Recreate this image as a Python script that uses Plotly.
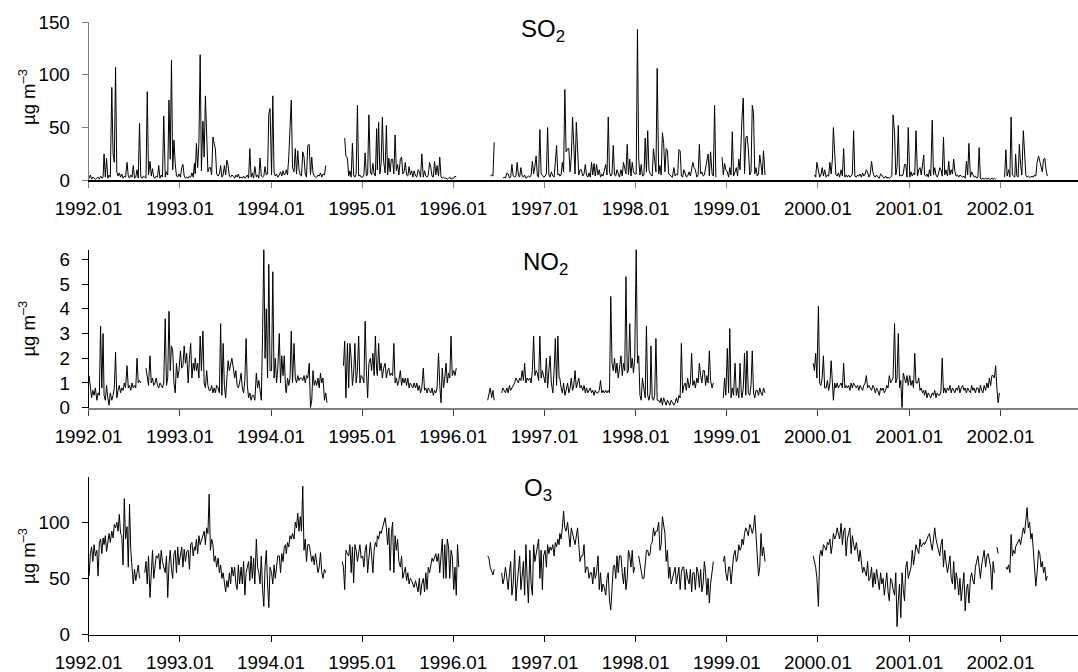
import plotly.graph_objects as go

N = None

# ---------------- SO2 (µg m-3), 6 values per month (pentads) ----------------
SO2_1992 = [2,5,1,3,2,1, 2,3,1,4,2,3, 25,3,21,2,5,3, 88,25,17,107,8,4, 7,3,6,2,4,3, 17,4,2,5,3,14,
            2,3,10,2,54,3, 2,4,3,2,84,5, 18,4,11,3,2,4, 3,14,2,5,3,61, 3,8,5,76,20,114, 10,38,16,4,3,6]
SO2_1993 = [3,12,15,4,2,3, 2,4,3,7,3,16, 6,35,12,35,119,9, 56,22,80,46,8,12, 12,5,41,35,30,6, 4,6,14,3,5,14,
            5,19,14,4,3,5, 4,2,5,3,6,2, 3,2,4,2,3,5, 2,30,3,7,2,13, 3,5,2,21,4,3, 4,13,5,6,63,68]
SO2_1994 = [5,80,8,4,6,3, 5,8,4,9,5,7, 10,5,22,50,76,12, 8,30,6,28,10,5, 4,27,22,6,3,33, 34,5,22,7,4,3,
            3,5,4,7,3,6, 5,14,N,N,N,N, N,N,N,N,N,N, N,N,N,N,40,23, 21,4,9,3,35,5, 3,6,71,4,5,3]
SO2_1995 = [3,5,26,4,6,62, 8,5,16,6,4,49, 10,55,6,16,60,18, 7,52,5,21,8,20, 20,6,43,9,15,5, 20,22,6,8,17,5,
            4,13,5,9,3,9, 4,3,10,8,3,25, 3,9,4,3,5,17, 12,4,3,18,5,14, 4,22,3,2,3,2, 2,1,2,3,1,2]
SO2_1996 = [2,4,3,N,N,N, N,N,N,N,N,N, N,N,N,N,N,N, N,N,N,N,N,N, N,N,N,N,N,4, 5,4,36,N,N,N,
            N,N,N,2,3,2, 7,6,2,3,15,4, 3,4,17,5,3,12, 4,3,5,2,3,4, 3,5,18,6,13,23, 4,3,48,6,5,3]
SO2_1997 = [4,6,50,5,3,8, 4,3,17,33,5,6, 4,5,17,8,86,27, 30,30,8,22,60,25, 6,55,20,5,10,10, 4,6,15,5,3,7,
            3,17,5,16,4,15, 5,10,3,6,4,10, 15,5,60,8,4,6, 33,5,4,10,5,3, 10,4,17,10,6,34, 5,20,4,17,8,6]
SO2_1998 = [6,143,20,5,15,4, 5,40,8,47,10,6, 5,4,30,15,8,106, 6,14,5,45,35,8, 30,28,6,5,4,3, 12,4,6,5,29,28,
            4,3,10,5,3,4, 8,4,10,17,12,10, 3,5,34,6,8,4, 5,12,15,25,4,27, 6,4,71,3,N,N, N,N,22,5,16,10]
SO2_1999 = [8,3,12,5,46,4, 8,12,4,20,10,58, 60,78,6,40,42,30, 5,8,71,64,6,12, 4,6,24,15,5,28, 5,N,N,N,N,N,
            N,N,N,N,N,N, N,N,N,N,N,N, N,N,N,N,N,N, N,N,N,N,N,N, N,N,N,N,N,N, N,N,N,5,3,17]
SO2_2000 = [10,3,5,12,4,10, 3,5,4,17,6,20, 50,25,5,4,7,3, 10,4,30,3,5,3, 5,3,4,6,47,4, 3,5,4,6,3,7,
            4,6,10,8,3,5, 18,8,4,3,5,3, 2,6,5,3,2,4, 2,3,2,3,4,62, 45,5,12,52,4,5, 4,6,15,15,3,50]
SO2_2001 = [3,8,4,7,5,47, 4,10,12,5,15,24, 5,4,6,3,10,4, 57,5,12,5,3,6, 12,10,4,41,5,10, 4,18,5,10,6,20,
            8,4,5,3,5,4, 3,4,2,18,5,35, 3,8,5,3,4,2, 3,31,2,1,2,1, 2,1,2,1,1,2, 1,2,1,N,N,N]
SO2_2002 = [N,N,N,3,29,4, 10,3,60,5,4,3, 25,4,3,34,15,5, 47,28,5,3,4,3, 3,4,3,5,4,17, 23,18,12,8,20,21,
            10,4]

# ---------------- NO2 (µg m-3), 6 values per month ----------------
NO2_1992 = [1.3,0.9,0.4,0.7,0.5,0.8, 0.3,0.6,0.5,3.3,0.8,3.0, 0.5,0.3,0.9,0.4,0.1,0.6,
            0.3,0.5,0.8,2.25,0.4,0.7, 0.9,0.6,0.8,0.7,1.0,0.8, 1.7,0.8,0.9,0.7,1.0,0.8,
            0.9,0.8,2.0,1.0,1.1,1.0, N,N,N,1.6,1.1,0.9, 2.1,1.0,1.2,0.9,1.0,1.2,
            0.9,0.8,1.0,0.9,0.8,1.0, 3.6,0.9,1.2,3.9,1.5,2.5, 2.3,1.0,0.6,1.8,1.2,1.5]
NO2_1993 = [2.3,1.6,1.7,2.5,1.8,2.2, 1.0,2.0,2.6,1.2,1.8,1.5, 2.0,1.5,1.8,1.2,2.9,1.5,
            3.1,1.0,0.8,1.5,0.9,0.7, 0.7,0.9,0.6,0.8,0.6,0.9, 0.8,0.6,3.4,0.5,2.6,0.9,
            0.4,1.2,1.9,1.5,1.8,2.0, 1.6,1.2,1.5,0.9,0.8,1.0, 1.4,0.8,0.6,1.1,2.8,0.9,
            0.4,0.6,0.3,0.5,0.5,0.3, 1.4,0.8,1.1,0.6,0.3,3.0, 6.4,2.0,4.0,1.2,5.8,1.5]
NO2_1994 = [1.5,5.5,1.2,2.0,1.0,1.6, 3.0,1.0,2.1,1.3,2.1,0.8, 0.6,1.2,0.9,1.2,3.1,1.0,
            2.6,1.2,1.0,1.3,1.1,1.2, 1.2,1.1,1.3,1.0,1.3,1.2, 1.8,0.0,0.3,1.5,0.9,1.1,
            0.9,1.2,0.8,1.4,1.0,1.2, 0.3,0.6,0.2,N,N,N, N,N,N,N,N,N,
            N,N,N,1.7,2.7,0.4, 2.6,0.8,2.6,2.0,0.9,1.4, 2.6,1.0,1.5,2.9,1.0,1.3]
NO2_1995 = [1.2,1.0,3.5,1.5,0.4,1.8, 2.0,1.5,2.2,1.3,2.9,1.5, 1.3,2.6,1.5,1.8,1.2,1.6,
            1.8,1.2,1.5,1.6,1.3,1.4, 1.3,2.6,1.0,1.2,0.9,1.1, 1.5,0.9,1.2,1.0,1.2,0.9,
            1.2,0.8,1.0,0.9,0.8,1.0, 0.8,1.0,0.7,0.9,0.6,0.8, 1.6,0.7,0.8,0.6,0.8,0.7,
            0.6,0.8,0.5,0.7,0.6,0.8, 2.2,0.9,0.2,1.6,0.8,1.2, 1.8,1.0,1.4,1.2,2.9,1.3]
NO2_1996 = [1.5,1.3,1.6,N,N,N, N,N,N,N,N,N, N,N,N,N,N,N,
            N,N,N,N,N,N, N,N,N,0.3,0.6,0.8, 0.4,0.7,0.3,N,N,N,
            N,N,0.6,0.8,0.7,0.6, 0.8,0.6,0.9,0.7,0.8,0.9, 1.0,1.2,1.1,1.0,1.2,1.1,
            1.5,1.1,1.8,1.0,1.2,1.1, 1.2,1.0,1.5,2.9,1.3,1.5, 1.4,1.1,2.9,1.2,1.5,1.2]
NO2_1997 = [1.0,2.0,0.8,1.5,2.1,1.0, 0.6,1.5,2.8,0.9,2.9,1.2, 1.2,0.8,0.6,1.0,0.5,0.7,
            1.0,0.6,0.8,1.2,0.7,0.9, 1.5,0.8,1.0,1.2,0.8,0.9, 0.7,0.9,0.6,0.8,0.6,0.7,
            0.8,0.6,0.7,0.5,0.7,0.6, 0.6,0.7,1.1,0.6,0.7,0.6, 0.7,0.6,0.7,0.6,4.5,1.8,
            1.5,2.0,1.4,1.8,1.2,1.6, 2.1,1.3,1.8,1.5,5.3,1.4, 1.5,3.4,1.6,2.0,1.4,2.0]
NO2_1998 = [6.4,1.8,2.1,0.5,0.3,1.2, 0.8,0.4,3.3,0.5,0.3,0.6, 2.5,0.4,0.3,0.5,2.8,0.3,
            0.3,0.2,0.4,0.1,0.4,0.2, 0.1,0.3,0.2,0.1,0.3,0.2, 0.1,0.2,0.4,0.2,0.5,0.4,
            2.6,0.6,0.9,1.0,0.7,1.2, 0.8,1.0,2.2,0.9,1.1,0.8, 1.2,1.0,1.8,1.3,1.0,1.5,
            1.5,0.9,1.3,1.0,2.3,1.1, 0.8,1.0,N,N,N,N, N,N,N,0.4,1.2,0.5]
NO2_1999 = [2.4,0.6,3.2,0.4,0.8,0.5, 1.8,0.5,0.8,0.4,1.8,0.6, 0.4,0.8,2.2,0.5,2.3,0.6,
            0.5,0.9,2.3,0.6,0.4,0.7, 0.7,0.5,0.8,0.6,0.5,0.8, 0.6,N,N,N,N,N,
            N,N,N,N,N,N, N,N,N,N,N,N, N,N,N,N,N,N,
            N,N,N,N,N,N, N,N,N,N,N,N, N,N,1.8,1.5,2.2,1.2]
NO2_2000 = [4.1,1.0,0.9,1.2,2.1,0.8, 0.8,1.1,0.7,1.0,1.9,0.9, 0.3,1.0,0.8,1.0,0.8,0.9,
            1.0,0.8,1.8,0.8,0.9,0.8, 0.9,0.7,1.0,0.8,1.0,0.9, 0.8,0.9,0.7,0.9,0.8,0.7,
            0.9,1.0,1.3,0.8,0.9,0.8, 0.7,0.9,0.8,0.6,0.8,0.7, 0.5,0.8,0.7,0.8,0.6,0.7,
            0.9,0.8,1.3,1.0,1.1,1.2, 3.4,1.0,1.2,3.0,0.8,1.1, 0.0,1.4,1.2,1.0,1.3,0.9]
NO2_2001 = [1.3,0.9,1.1,0.8,2.2,1.0, 1.0,1.2,0.7,0.8,0.6,0.7, 0.5,0.7,0.4,0.6,0.5,0.4,
            0.6,0.5,0.7,0.4,0.6,0.5, 0.5,0.7,2.0,0.6,0.8,0.6, 0.8,0.7,0.9,0.6,0.8,0.7,
            0.6,0.8,0.7,0.9,0.6,0.8, 0.9,0.7,0.8,0.6,0.8,0.7, 0.6,0.9,0.7,0.8,0.6,0.8,
            0.8,0.6,0.9,0.7,0.6,0.9, 0.7,1.0,0.8,1.2,0.9,1.3, 1.3,1.2,1.7,0.8,0.2,0.6]

# ---------------- O3 (µg m-3), 6 values per month ----------------
O3_1992 = [52,72,78,65,80,70, 75,52,82,85,72,86, 80,88,74,85,90,82, 92,86,98,95,100,92,
           107,90,88,62,121,85, 96,60,116,75,55,45, 58,48,55,62,50,N, N,N,55,65,45,70,
           33,60,75,50,62,70, 68,72,58,75,65,60, 55,70,33,62,75,58, 50,72,75,55,78,62]
O3_1993 = [70,78,60,76,65,74, 75,58,80,82,70,78, 75,85,72,88,80,84, 88,92,80,95,90,125,
           75,85,80,65,70,60, 68,55,62,50,55,45, 38,48,42,55,45,60, 52,60,45,40,62,45,
           60,45,65,35,55,60, 65,48,70,50,68,45, 85,60,55,45,70,40, 25,60,75,45,24,60]
O3_1994 = [55,45,62,50,60,70, 70,55,72,65,78,80, 72,82,78,88,85,90, 85,100,95,108,92,105,
           92,132,75,85,65,80, 80,72,65,70,62,72, 62,55,60,73,56,50, 58,55,N,N,N,N,
           N,N,N,N,N,N, N,N,65,60,40,75, 72,70,80,55,78,46, 80,75,65,72,80,68]
O3_1995 = [70,60,75,80,55,68, 82,70,55,75,82,78, 88,85,92,90,95,100, 104,95,80,95,57,90,
           100,55,88,75,85,65, 60,70,50,55,60,48, 55,45,50,48,45,42, 48,42,38,50,35,45,
           50,38,55,40,60,55, 60,68,65,70,72,65, 72,55,70,85,50,80, 50,85,78,50,75,70]
O3_1996 = [40,60,35,80,60,N, N,N,N,N,N,N, N,N,N,N,N,N, N,N,N,N,N,N,
           N,N,N,70,68,60, 55,53,58,N,N,N, N,N,55,45,50,60, 50,40,55,65,35,45,
           75,30,45,60,70,40, 55,65,35,80,50,28, 75,45,35,80,65,72, 80,85,50,75,40,70]
O3_1997 = [75,60,80,72,78,75, 80,70,82,78,85,80, 90,85,95,110,95,92, 100,90,78,95,88,85,
           80,90,95,80,65,70, 70,80,55,60,60,50, 55,55,45,60,50,55, 70,40,55,38,45,42,
           35,50,55,30,22,40, 60,62,50,70,55,70, 70,55,45,60,40,50, 75,70,60,75,55,60]
O3_1998 = [N,N,70,62,55,50, 50,60,75,75,70,72, 80,82,95,88,92,92, 100,75,80,105,95,90,
           65,75,50,60,45,50, 55,60,45,55,60,40, 55,60,60,40,58,50, 45,58,38,55,55,40,
           60,55,42,58,38,45, 65,55,35,50,28,45, 60,65,N,N,N,N, N,N,N,65,70,55]
O3_1999 = [48,60,60,45,55,70, 75,65,68,80,75,78, 85,80,90,95,92,88, 98,95,90,95,106,90,
           75,52,60,90,70,78, 65,N,N,N,N,N, N,N,N,N,N,N, N,N,N,N,N,N,
           N,N,N,N,N,N, N,N,N,N,N,N, N,N,N,N,N,N, N,N,70,65,60,50]
O3_2000 = [25,70,75,70,80,78, 75,82,80,85,72,80, 90,85,88,95,88,85, 99,80,92,95,70,85,
           90,95,72,88,80,75, 82,70,65,75,62,55, 60,55,52,65,48,50, 60,42,55,45,58,50,
           40,55,45,50,35,45, 55,38,30,50,48,40, 35,55,7,30,45,15, 55,40,30,60,65,50]
O3_2001 = [55,60,75,62,70,80, 75,72,85,78,80,82, 80,82,85,88,90,82, 75,85,95,85,80,78,
           70,80,85,60,75,65, 55,62,70,50,45,65, 40,55,48,35,50,30, 45,55,21,40,45,28,
           50,55,48,45,60,65, 70,60,50,62,70,75, 60,70,72,65,60,40, 65,55,N,78,72,N]
O3_2002 = [N,N,N,N,60,58, 62,55,89,70,75,72, 78,80,82,85,80,88, 95,90,100,113,95,100,
           85,90,75,60,43,55, 75,72,60,65,55,60, 48,52]

YEARS = list(range(1992, 2003))
TICK_TEXT = [f"{y}.01" for y in YEARS]
TICK_VALS = [f"{y}-01-01" for y in YEARS]
PENTAD_DAYS = [3, 8, 13, 18, 23, 28]


def build(year_lists):
    xs, ys = [], []
    for year, vals in zip(YEARS, year_lists):
        for i, v in enumerate(vals):
            xs.append(f"{year}-{i // 6 + 1:02d}-{PENTAD_DAYS[i % 6]:02d}")
            ys.append(v)
    return xs, ys


so2_x, so2_y = build([SO2_1992, SO2_1993, SO2_1994, SO2_1995, SO2_1996, SO2_1997,
                      SO2_1998, SO2_1999, SO2_2000, SO2_2001, SO2_2002])
no2_x, no2_y = build([NO2_1992, NO2_1993, NO2_1994, NO2_1995, NO2_1996, NO2_1997,
                      NO2_1998, NO2_1999, NO2_2000, NO2_2001])
o3_x, o3_y = build([O3_1992, O3_1993, O3_1994, O3_1995, O3_1996, O3_1997,
                    O3_1998, O3_1999, O3_2000, O3_2001, O3_2002])

W, H = 1078, 672
FONT = "Liberation Sans, Arial, sans-serif"
GRAY = "#808080"

def py(p):
    return 1 - p / H

x_dom = [88.6 / W, 1.0]
x_range = ["1992-01-01", "2002-11-08"]

fig = go.Figure()
line = dict(color="black", width=1)
fig.add_trace(go.Scatter(x=so2_x, y=so2_y, mode="lines", line=line, connectgaps=False,
                         xaxis="x", yaxis="y", showlegend=False, hoverinfo="skip"))
fig.add_trace(go.Scatter(x=no2_x, y=no2_y, mode="lines", line=line, connectgaps=False,
                         xaxis="x2", yaxis="y2", showlegend=False, hoverinfo="skip"))
fig.add_trace(go.Scatter(x=o3_x, y=o3_y, mode="lines", line=line, connectgaps=False,
                         xaxis="x3", yaxis="y3", showlegend=False, hoverinfo="skip"))

def xaxis(anchor, linecolor, lw, tickcolor):
    return dict(type="date", domain=x_dom, range=x_range, anchor=anchor,
                tickmode="array", tickvals=TICK_VALS, ticktext=TICK_TEXT,
                ticks="outside", ticklen=6, tickwidth=1, tickcolor=tickcolor,
                showline=True, linecolor=linecolor, linewidth=lw,
                showgrid=False, zeroline=False, ticklabelstandoff=5,
                tickfont=dict(family=FONT, size=18.8, color="black"))

def yaxis(anchor, dom, rng, tv, linecolor, tickcolor):
    return dict(domain=dom, range=rng, anchor=anchor, tickmode="array", tickvals=tv,
                ticks="outside", ticklen=6, tickwidth=1, tickcolor=tickcolor,
                showline=True, linecolor=linecolor, linewidth=1,
                showgrid=False, zeroline=False, ticklabelstandoff=8,
                tickfont=dict(family=FONT, size=18.8, color="black"))

fig.update_layout(
    width=W, height=H, margin=dict(l=0, r=0, t=0, b=0, autoexpand=False),
    paper_bgcolor="white", plot_bgcolor="white", hovermode=False,
    xaxis=xaxis("y", "black", 1.5, GRAY),
    yaxis=yaxis("x", [py(180.3), py(22)], [0, 150], [0, 50, 100, 150], GRAY, GRAY),
    xaxis2=xaxis("y2", GRAY, 2, "#404040"),
    yaxis2=yaxis("x2", [py(407.7), py(249.5)], [0, 6.4], [0, 1, 2, 3, 4, 5, 6], "black", "black"),
    xaxis3=xaxis("y3", "black", 1.2, "black"),
    yaxis3=yaxis("x3", [py(634.5), py(477.3)], [0, 140], [0, 50, 100], "black", "black"),
)

ann = []
for txt, xp, yp in [("SO<sub>2</sub>", 543, 31), ("NO<sub>2</sub>", 546, 264), ("O<sub>3</sub>", 538, 489)]:
    ann.append(dict(text=txt, x=xp / W, y=py(yp), xref="paper", yref="paper", showarrow=False,
                    xanchor="center", yanchor="middle", font=dict(family=FONT, size=24, color="black")))
for yc in [97, (407.7 + 249.5) / 2, (634.5 + 477.3) / 2]:
    ann.append(dict(text="µg m<sup>–3</sup>", x=27 / W, y=py(yc), xref="paper", yref="paper",
                    showarrow=False, textangle=-90, xanchor="center", yanchor="middle",
                    font=dict(family=FONT, size=18.5, color="black")))
fig.update_layout(annotations=ann)

fig.write_html("out.html", config={"displayModeBar": False, "staticPlot": True},
               post_script="document.body.style.margin='0';")
